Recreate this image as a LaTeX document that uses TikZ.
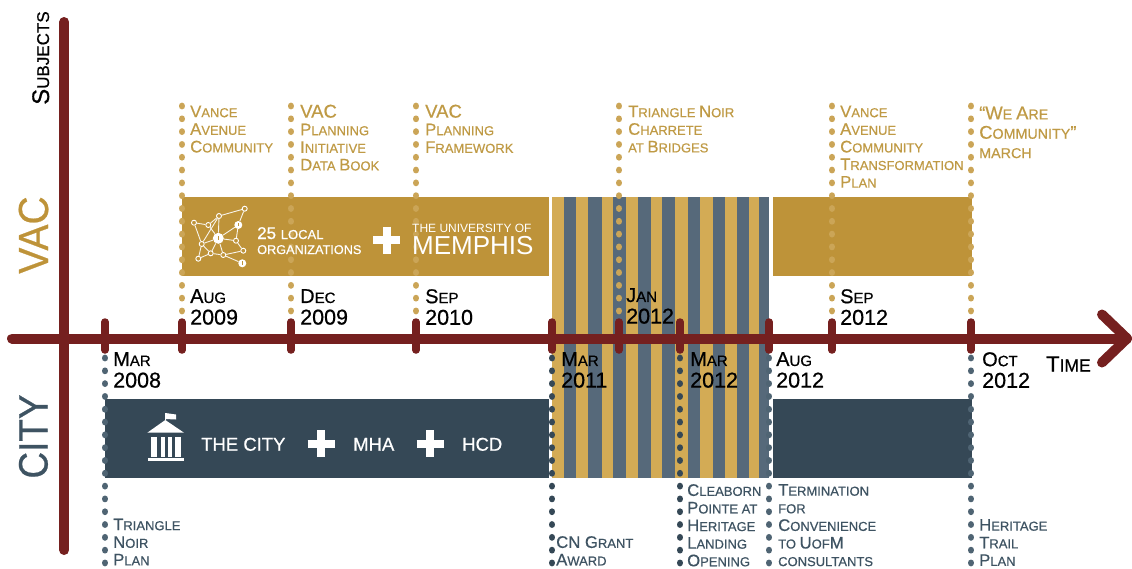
\documentclass[tikz,border=0pt]{standalone}
\usetikzlibrary{calc}
\usepackage{fontspec}
\setmainfont[FakeBold=0.6]{Liberation Sans}
\newfontfamily\plainface{Liberation Sans}
\definecolor{axisred}{HTML}{75201F}
\definecolor{barGold}{HTML}{BE9339}
\definecolor{barSlate}{HTML}{354856}
\definecolor{stripeGold}{HTML}{D3AB55}
\definecolor{stripeSlate}{HTML}{56697A}
\definecolor{dotGold}{HTML}{CBA557}
\definecolor{dotSlate}{HTML}{4F6473}
\definecolor{txtGold}{HTML}{BF9A45}
\definecolor{txtSlate}{HTML}{3E5362}
\newcommand\SC[2]{{\fontsize{16.7}{17}\selectfont #1\fontsize{13}{17}\selectfont #2}}
\newcommand\BG[1]{{\fontsize{18.5}{17}\selectfont #1}}
\newcommand\SM[1]{{\fontsize{13}{17}\selectfont #1}}
\newcommand\DT[2]{{\fontsize{20}{21}\selectfont #1\fontsize{15}{21}\selectfont #2}}
\newcommand\YR[1]{{\fontsize{21.5}{21}\selectfont #1}}
\tikzset{
  x=1pt,y=-1pt,
  goldtext/.style={anchor=north west,inner sep=0pt,align=left,text=txtGold,font=\fontsize{13}{17.6}\selectfont},
  slatetext/.style={anchor=north west,inner sep=0pt,align=left,text=txtSlate,font=\fontsize{13}{17.6}\selectfont},
  datelabel/.style={anchor=north west,inner sep=0pt,align=left,text=black,font=\fontsize{15}{21.6}\selectfont},
  bartext/.style={anchor=base west,inner sep=0pt,text=white},
  gdots/.style={draw=dotGold,line width=6.8pt,line cap=round,dash pattern=on 0.01pt off 12.8pt},
  sdots/.style={draw=dotSlate,line width=6.8pt,line cap=round,dash pattern=on 0.01pt off 12.8pt},
  ddots/.style={draw=barSlate,line width=6.8pt,line cap=round,dash pattern=on 0.01pt off 12.8pt},
  axisline/.style={draw=axisred,line width=10pt,line cap=round,line join=round},
  tickmark/.style={draw=axisred,line width=7.5pt,line cap=round},
  plusbar/.style={draw=white,line width=8pt},
  netedge/.style={draw=white!90!barGold,line width=0.9pt},
  netsmall/.style={circle,draw=white,line width=0.9pt,fill=barGold,inner sep=0pt,minimum size=5pt},
  netbig/.style={circle,fill=white,inner sep=0pt,minimum size=8pt},
}
\begin{document}
\begin{tikzpicture}
\useasboundingbox (0,0) rectangle (1132,568);
% bars
\fill[barGold] (182,196.5) rectangle (549,276);
\fill[barGold] (773,196.5) rectangle (972,276);
\fill[barSlate] (105,399) rectangle (549,478);
\fill[barSlate] (773,399) rectangle (972,478);
% stripes
\fill[stripeGold] (552,196.5) rectangle (769,478);
\foreach \a/\b in {564/576,588/602,613/626,638/651,662/675,688/700,713/725,737/749,759/769}
  \fill[stripeSlate] (\a,196.5) rectangle (\b,478);
% tick coordinates
\foreach \n/\x in {a/105,b/182,c/291,d/416,e/552,f/619,g/680,h/769,i/832,j/971}{
  \coordinate (top\n) at (\x,106);
  \coordinate (low\n) at (\x,358);
  \coordinate (bot\n) at (\x,568);
  \coordinate (tk\n) at (\x,311.5);
}
% dotted drop lines
\foreach \n in {b,c,d,f,i,j} \draw[gdots] (top\n) -- (tk\n);
\foreach \n in {a,h,j} \draw[sdots] (low\n) -- (bot\n);
\foreach \n in {e,g} \draw[ddots] (low\n) -- (bot\n);
% axes
\coordinate (axL) at (12,338.5);
\coordinate (axR) at (1127,338.5);
\coordinate (chevT) at (1102,314.5);
\coordinate (chevB) at (1102,362.5);
\coordinate (vT) at (64.3,22);
\coordinate (vB) at (64.3,550);
\draw[axisline] (vT) -- (vB);
\draw[axisline] (axL) -- (axR);
\draw[axisline] (chevT) -- (axR) -- (chevB);
\foreach \n/\x in {a/105,b/182,c/291,d/416,e/552,f/619,g/680,h/769,i/832,j/971}{
  \coordinate (tA\n) at (\x,322);
  \coordinate (tB\n) at (\x,350);
  \draw[tickmark] (tA\n) -- (tB\n);
}
% axis titles
\node[rotate=90,anchor=base west,inner sep=0pt,text=black] (subj) at (49,105)
  {{\fontsize{24}{24}\selectfont S\fontsize{17}{24}\selectfont UBJECTS}};
\node[rotate=90,anchor=base,inner sep=0pt,text=barGold,xscale=.93,font=\fontsize{42}{42}\selectfont] (vac) at (48,235) {VAC};
\node[rotate=90,anchor=base,inner sep=0pt,text=txtSlate,xscale=.9,font=\fontsize{41}{41}\selectfont] (city) at (47.5,436.5) {CITY};
\node[anchor=base west,inner sep=0pt,text=black] (time) at (1046,371.5)
  {{\fontsize{22}{22}\selectfont T\fontsize{17.5}{22}\selectfont IME}};
% top labels
\node[goldtext] (l1) at (190,105.5) {\SC{V}{ANCE}\\\SC{A}{VENUE}\\\SC{C}{OMMUNITY}};
\node[goldtext] (l2) at (300,104.5) {\BG{VAC}\\\SC{P}{LANNING}\\\SC{I}{NITIATIVE}\\\SC{D}{ATA }\SC{B}{OOK}};
\node[goldtext] (l3) at (425,104.5) {\BG{VAC}\\\SC{P}{LANNING}\\\SC{F}{RAMEWORK}};
\node[goldtext] (l4) at (628,105.5) {\SC{T}{RIANGLE }\SC{N}{OIR}\\\SC{C}{HARRETE}\\\SM{AT }\SC{B}{RIDGES}};
\node[goldtext] (l5) at (840,105.5) {\SC{V}{ANCE}\\\SC{A}{VENUE}\\\SC{C}{OMMUNITY}\\\SC{T}{RANSFORMATION}\\\SC{P}{LAN}};
\node[goldtext,scale=1.1,transform shape] (l6) at (979,106.5) {\SC{``W}{E }\SC{A}{RE}\\\SC{C}{OMMUNITY}\SC{''}{}\\\SM{MARCH}};
% dates above
\node[datelabel] (d1) at (190,289) {\DT{A}{UG}\\\YR{2009}};
\node[datelabel] (d2) at (300,289) {\DT{D}{EC}\\\YR{2009}};
\node[datelabel] (d3) at (425,289) {\DT{S}{EP}\\\YR{2010}};
\node[datelabel] (d4) at (626,288) {\DT{J}{AN}\\\YR{2012}};
\node[datelabel] (d5) at (840,289) {\DT{S}{EP}\\\YR{2012}};
% dates below
\node[datelabel] (d6) at (113,352) {\DT{M}{AR}\\\YR{2008}};
\node[datelabel] (d7) at (561,352) {\DT{M}{AR}\\\YR{2011}};
\node[datelabel] (d8) at (690,352) {\DT{M}{AR}\\\YR{2012}};
\node[datelabel] (d9) at (776,352) {\DT{A}{UG}\\\YR{2012}};
\node[datelabel] (d10) at (982,352) {\DT{O}{CT}\\\YR{2012}};
% bottom labels
\node[slatetext] (b1) at (113,518.5) {\SC{T}{RIANGLE}\\\SC{N}{OIR}\\\SC{P}{LAN}};
\node[slatetext] (b2) at (556,536) {\SC{CN G}{RANT}\\\SC{A}{WARD}};
\node[slatetext] (b3) at (687,484) {\SC{C}{LEABORN}\\\SC{P}{OINTE AT}\\\SC{H}{ERITAGE}\\\SC{L}{ANDING}\\\SC{O}{PENING}};
\node[slatetext] (b4) at (778,484) {\SC{T}{ERMINATION}\\\SM{FOR}\\\SC{C}{ONVENIENCE}\\\SM{TO }\SC{U}{OF}\SC{M}{}\\\SM{CONSULTANTS}};
\node[slatetext] (b5) at (979,519) {\SC{H}{ERITAGE}\\\SC{T}{RAIL}\\\SC{P}{LAN}};
% gold bar content
\foreach \n/\x/\y in {n1/194/222.7,n2/208.3/225,n3/219/216,n4/244.7/208.7,n7/236/240.7,n8/201.7/244,n9/243.3/250.7,n10/223.3/255,n11/210.7/253.3,n12/198.3/258.7}
  \node[netsmall] (\n) at (\x,\y) {};
\node[netbig] (n5) at (238.3,225) {};
\node[netbig,minimum size=11pt] (n6) at (218.3,238.3) {};
\node[netbig] (n13) at (242.3,263.3) {};
\foreach \p/\q in {n1/n2,n2/n3,n3/n4,n4/n5,n5/n6,n3/n6,n2/n6,n1/n8,n8/n6,n8/n11,n8/n12,n6/n10,n6/n11,n7/n5,n7/n9,n9/n10,n10/n13,n10/n11,n11/n12,n3/n8,n6/n7}
  \draw[netedge] (\p) -- (\q);
\foreach \n in {n5,n6,n13} \fill[barGold] ($(\n)+(-.7,-2.4)$) rectangle ($(\n)+(.7,1.4)$);
\node[bartext] (t25) at (257,239) {{\fontsize{17}{17}\selectfont 25 \fontsize{13}{17}\selectfont LOCAL}};
\node[bartext,font=\fontsize{12.7}{15}\selectfont] (torg) at (257,254) {ORGANIZATIONS};
\coordinate (pgc) at (386.5,240);
\draw[plusbar] ($(pgc)+(-13.5,0)$) -- ($(pgc)+(13.5,0)$);
\draw[plusbar] ($(pgc)+(0,-13.5)$) -- ($(pgc)+(0,13.5)$);
\node[bartext,font=\plainface\fontsize{12}{14}\selectfont] (tum) at (412,232.7) {THE UNIVERSITY OF};
\node[bartext,font=\plainface\fontsize{26}{28}\selectfont] (tmem) at (412,254) {MEMPHIS};
% slate bar content
\fill[white] (165.3,420) -- (184,432.7) -- (147.3,432.7) -- cycle;
\draw[white,line width=1pt] (165.3,420) -- (165.3,413);
\fill[white] (165.3,413) -- (176,414.5) -- (176,419.5) -- (165.3,419) -- cycle;
\fill[white] (151,436.5) rectangle (157,457);
\fill[white] (161,436.5) rectangle (164.5,457);
\fill[white] (168,436.5) rectangle (171.5,457);
\fill[white] (175,436.5) rectangle (181,457);
\fill[white] (148,458) rectangle (183.5,461);
\node[bartext,font=\fontsize{18.5}{20}\selectfont] (tcity) at (201,450.7) {THE CITY};
\coordinate (ps1) at (321,443.5);
\draw[plusbar] ($(ps1)+(-13.5,0)$) -- ($(ps1)+(13.5,0)$);
\draw[plusbar] ($(ps1)+(0,-13.5)$) -- ($(ps1)+(0,13.5)$);
\node[bartext,font=\fontsize{18.5}{20}\selectfont] (tmha) at (353,450.7) {MHA};
\coordinate (ps2) at (430,443.5);
\draw[plusbar] ($(ps2)+(-13.5,0)$) -- ($(ps2)+(13.5,0)$);
\draw[plusbar] ($(ps2)+(0,-13.5)$) -- ($(ps2)+(0,13.5)$);
\node[bartext,font=\fontsize{18.5}{20}\selectfont] (thcd) at (462,450.7) {HCD};
\end{tikzpicture}
\end{document}
